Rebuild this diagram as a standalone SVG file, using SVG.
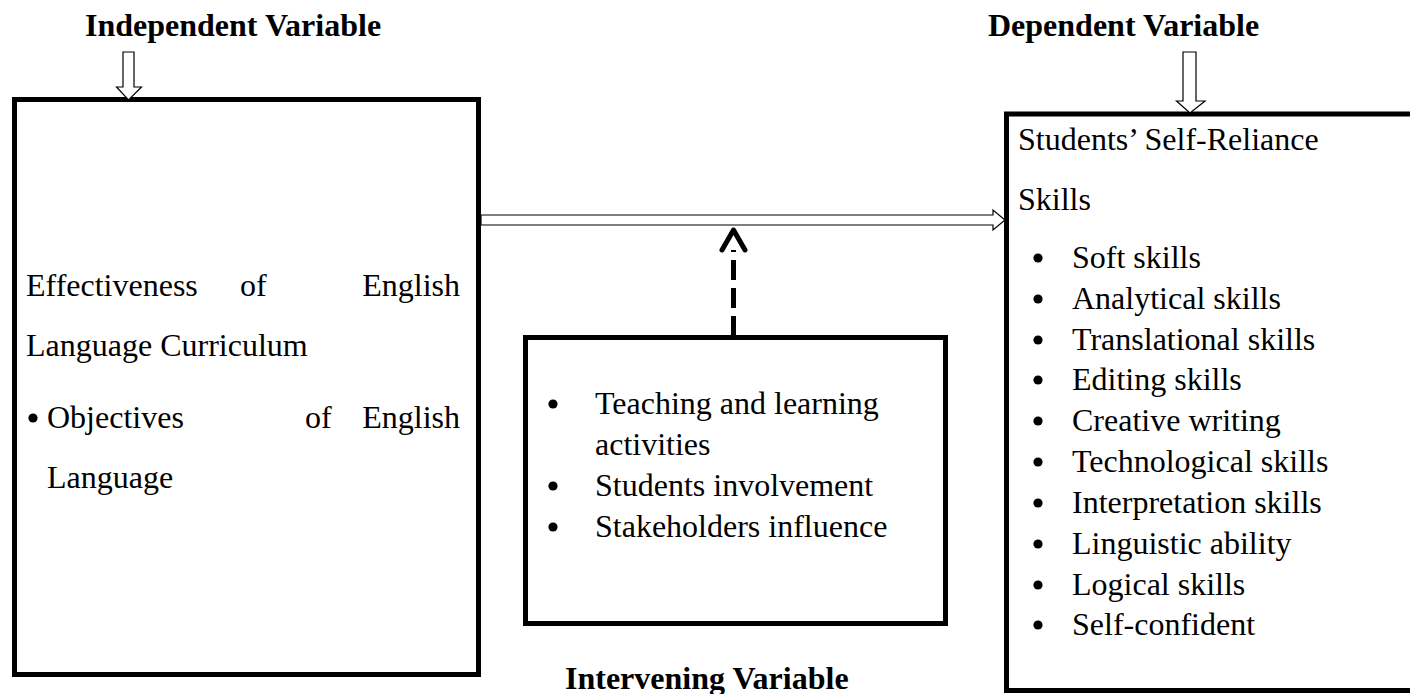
<svg xmlns="http://www.w3.org/2000/svg" width="1410" height="694" viewBox="0 0 1410 694">
  <style>
    .box { fill: #ffffff; stroke: #000000; stroke-width: 5; }
    .txt { font-family: "Liberation Serif", "Times New Roman", serif; font-size: 32px; fill: #000000; }
    .head { font-family: "Liberation Serif", "Times New Roman", serif; font-size: 32px; font-weight: bold; fill: #000000; }
    .hollow { fill: #ffffff; stroke: #000000; stroke-width: 1.2; stroke-linejoin: miter; }
    .dash { fill: none; stroke: #000000; stroke-width: 5; stroke-dasharray: 20 8; }
    .chev { fill: none; stroke: #000000; stroke-width: 5; stroke-linecap: round; stroke-linejoin: round; }
  </style>
  <defs>
    <!-- list bullet -->
    <circle id="dot" cx="0" cy="0" r="4.6" fill="#000000"/>
  </defs>
  <rect width="1410" height="694" fill="#ffffff"/>

  <!-- variable headings -->
  <text class="head" x="85" y="36">Independent Variable</text>
  <text class="head" x="988" y="36">Dependent Variable</text>
  <text class="head" x="565" y="689">Intervening Variable</text>

  <!-- independent variable box -->
  <g id="independent">
    <rect class="box" x="14.5" y="99.5" width="464" height="575"/>
    <text class="txt" x="26" y="296">Effectiveness</text>
    <text class="txt" x="240" y="296">of</text>
    <text class="txt" x="460" y="296" text-anchor="end">English</text>
    <text class="txt" x="26" y="356">Language Curriculum</text>
    <use href="#dot" x="33" y="418"/>
    <text class="txt" x="47" y="428">Objectives</text>
    <text class="txt" x="305" y="428">of</text>
    <text class="txt" x="460" y="428" text-anchor="end">English</text>
    <text class="txt" x="47" y="488">Language</text>
  </g>

  <!-- intervening variable box -->
  <g id="intervening">
    <rect class="box" x="525.5" y="337.5" width="420" height="286"/>
    <use href="#dot" x="553" y="404"/>
    <text class="txt" x="595" y="414">Teaching and learning</text>
    <text class="txt" x="595" y="455">activities</text>
    <use href="#dot" x="553" y="486"/>
    <text class="txt" x="595" y="496">Students involvement</text>
    <use href="#dot" x="553" y="527"/>
    <text class="txt" x="595" y="537">Stakeholders influence</text>
  </g>

  <!-- dependent variable box (runs past the right edge) -->
  <g id="dependent">
    <rect class="box" x="1006.5" y="114" width="420" height="576.5"/>
    <text class="txt" x="1018" y="150">Students’ Self-Reliance</text>
    <text class="txt" x="1018" y="210">Skills</text>
    <g>
      <use href="#dot" x="1038" y="258"/><text class="txt" x="1072" y="268">Soft skills</text>
      <use href="#dot" x="1038" y="299"/><text class="txt" x="1072" y="309">Analytical skills</text>
      <use href="#dot" x="1038" y="340"/><text class="txt" x="1072" y="350">Translational skills</text>
      <use href="#dot" x="1038" y="380"/><text class="txt" x="1072" y="390">Editing skills</text>
      <use href="#dot" x="1038" y="421"/><text class="txt" x="1072" y="431">Creative writing</text>
      <use href="#dot" x="1038" y="462"/><text class="txt" x="1072" y="472">Technological skills</text>
      <use href="#dot" x="1038" y="503"/><text class="txt" x="1072" y="513">Interpretation skills</text>
      <use href="#dot" x="1038" y="544"/><text class="txt" x="1072" y="554">Linguistic ability</text>
      <use href="#dot" x="1038" y="585"/><text class="txt" x="1072" y="595">Logical skills</text>
      <use href="#dot" x="1038" y="625"/><text class="txt" x="1072" y="635">Self-confident</text>
    </g>
  </g>

  <!-- connectors -->
  <g id="connectors">
    <!-- heading pointers -->
    <path class="hollow" d="M123 52 H134 V87 H141.5 L128.5 100 L116.5 87 H123 Z"/>
    <path class="hollow" d="M1183 52 H1196 V101 H1205 L1190 113 L1176.5 101 H1183 Z"/>
    <!-- independent to dependent -->
    <path class="hollow" d="M481 215 H993 V210 L1005 220 L993 230 V225 H481 Z"/>
    <!-- intervening influence (dashed) -->
    <line class="dash" x1="733.5" y1="336" x2="733.5" y2="250"/>
    <polyline class="chev" points="722,250 733.5,230 745,250"/>
  </g>
</svg>
